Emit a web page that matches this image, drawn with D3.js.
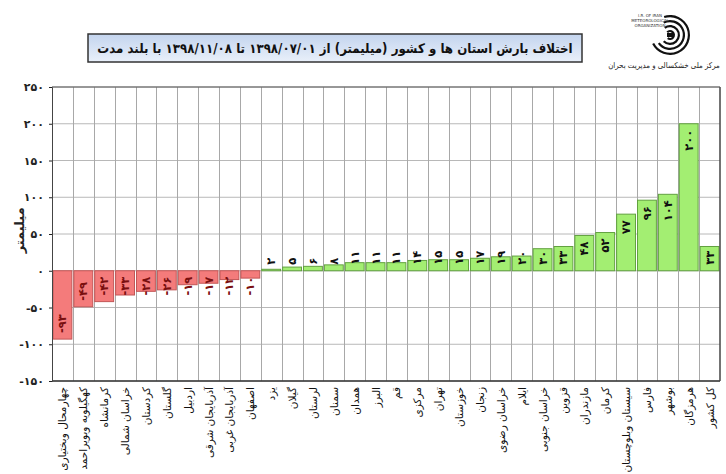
<!DOCTYPE html>
<html>
<head>
<meta charset="utf-8">
<script src="https://cdn.jsdelivr.net/npm/d3@7"></script>
<style>
  body { margin: 0; background: #fff; }
  svg { display: block; font-family: "DejaVu Sans", sans-serif; }
</style>
</head>
<body>
<svg width="726" height="474"></svg>
<script>
// provinces, in the order of the bars (left to right)
const provinces = [
  'چهارمحال وبختیاری', 'کهگیلویه وبویراحمد', 'کرمانشاه', 'خراسان شمالی', 'کردستان',
  'گلستان', 'اردبیل', 'آذربایجان شرقی', 'آذربایجان غربی', 'اصفهان',
  'یزد', 'گیلان', 'لرستان', 'سمنان', 'همدان', 'البرز', 'قم', 'مرکزی',
  'تهران', 'خوزستان', 'زنجان', 'خراسان رضوی', 'ایلام', 'خراسان جنوبی',
  'قزوین', 'مازندران', 'کرمان', 'سیستان وبلوچستان', 'فارس', 'بوشهر',
  'هرمزگان', 'کل کشور'
];
// difference from long-term mean (mm)
const diffs = [
  -93, -49, -42, -33, -28, -26, -19, -17, -12, -10,
  2, 5, 6, 8, 11, 11, 11, 14, 15, 15, 17, 19, 20, 30,
  33, 48, 52, 77, 96, 104, 200, 33
];
const yTicks = [-150, -100, -50, 0, 50, 100, 150, 200, 250];

const title = 'اختلاف بارش استان ها و کشور (میلیمتر) از ۱۳۹۸/۰۷/۰۱ تا ۱۳۹۸/۱۱/۰۸ با بلند مدت';
const yTitle = 'میلیمتر';
const orgName = 'مرکز ملی خشکسالی و مدیریت بحران';

const fa = function (s) {
  return String(s).replace(/\d/g, function (d) { return '۰۱۲۳۴۵۶۷۸۹'[d]; });
};

// shrink a text until it fits the given width
function fitText(sel, maxW, size) {
  sel.attr('font-size', size);
  const w = sel.node().getComputedTextLength();
  if (w > maxW) sel.attr('font-size', size * maxW / w);
}

const svg = d3.select('svg');
const margin = {top: 87, right: 6, bottom: 93, left: 52};
const W = 726, H = 474;

const x = d3.scaleBand()
  .domain(d3.range(provinces.length))
  .range([margin.left, W - margin.right])
  .padding(0);

const y = d3.scaleLinear()
  .domain([-150, 250])
  .range([H - margin.bottom, margin.top]);

const defs = svg.append('defs');
const tg = defs.append('linearGradient').attr('id', 'titleFill')
  .attr('x1', 0).attr('y1', 0).attr('x2', 0).attr('y2', 1);
tg.append('stop').attr('offset', '0%').attr('stop-color', '#c3d4ee');
tg.append('stop').attr('offset', '100%').attr('stop-color', '#e9f0fa');

// grid
svg.append('g')
  .selectAll('line')
  .data(yTicks)
  .enter().append('line')
  .attr('x1', margin.left).attr('x2', W - margin.right)
  .attr('y1', function (d) { return y(d); })
  .attr('y2', function (d) { return y(d); })
  .attr('stroke', '#b8b8b8');

svg.append('g')
  .selectAll('line')
  .data(d3.range(1, provinces.length))
  .enter().append('line')
  .attr('x1', function (d) { return Math.round(x(d)) + 0.5; })
  .attr('x2', function (d) { return Math.round(x(d)) + 0.5; })
  .attr('y1', y(250)).attr('y2', y(-150))
  .attr('stroke', '#a8a8a8');

// bars
svg.append('g')
  .selectAll('rect')
  .data(diffs)
  .enter().append('rect')
  .attr('x', function (d, i) { return x(i) + 1; })
  .attr('width', x.bandwidth() - 2)
  .attr('y', function (d) { return Math.min(y(d), y(0)); })
  .attr('height', function (d) { return Math.abs(y(d) - y(0)); })
  .attr('fill', function (d) { return d < 0 ? '#f47b7b' : '#a3ee72'; })
  .attr('stroke', function (d) { return d < 0 ? '#c25656' : '#62a140'; })
  .attr('stroke-width', 1);

// frame
svg.append('line')
  .attr('x1', margin.left).attr('x2', W - margin.right)
  .attr('y1', y(-150)).attr('y2', y(-150))
  .attr('stroke', '#333').attr('stroke-width', 1.5);
svg.append('line')
  .attr('x1', W - margin.right).attr('x2', W - margin.right)
  .attr('y1', y(250)).attr('y2', y(-150))
  .attr('stroke', '#444').attr('stroke-width', 1.5);
svg.append('line')
  .attr('x1', margin.left).attr('x2', W - margin.right)
  .attr('y1', y(250)).attr('y2', y(250))
  .attr('stroke', '#555');

// y axis
const yAxis = d3.axisLeft(y)
  .tickValues(yTicks)
  .tickSize(3)
  .tickFormat(function (d) { return fa(d); });
const ya = svg.append('g')
  .attr('transform', 'translate(' + margin.left + ',0)')
  .call(yAxis);
ya.select('.domain').attr('stroke', '#444');
ya.selectAll('.tick line').attr('stroke', '#222');
ya.selectAll('text')
  .attr('font-family', 'DejaVu Sans')
  .attr('font-size', 11)
  .attr('font-weight', 'bold')
  .attr('fill', '#222')
  .attr('x', -8);

svg.append('text')
  .attr('transform', 'translate(24,' + y(55) + ') rotate(-90)')
  .attr('text-anchor', 'middle')
  .attr('font-size', 13)
  .attr('font-weight', 'bold')
  .attr('fill', '#222')
  .text(yTitle);

// x labels
svg.append('g')
  .selectAll('text')
  .data(provinces)
  .enter().append('text')
  .attr('transform', function (d, i) {
    return 'translate(' + (x(i) + x.bandwidth() / 2 + 4) + ',' + (y(-150) + 6) + ') rotate(-90)';
  })
  .attr('text-anchor', 'end')
  .attr('font-size', 10.5)
  .attr('fill', '#111')
  .text(function (d) { return d; });

// value labels, rotated, inside the bar end when there is room
const vl = svg.append('g')
  .selectAll('text')
  .data(diffs)
  .enter().append('text')
  .attr('font-size', 11.5)
  .attr('font-weight', 'bold')
  .attr('fill', function (d) { return d < 0 ? '#7a0f0f' : '#111'; })
  .attr('text-anchor', 'start')
  .text(function (d) { return fa(d); });

vl.each(function (d, i) {
  const len = this.getComputedTextLength();
  let bottom;
  if (d >= 0) {
    const top = Math.min(y(d) + 6, y(0) - 6 - len);
    bottom = top + len;
  } else {
    bottom = Math.max(y(d) - 6, y(0) + 6 + len);
  }
  d3.select(this).attr('transform',
    'translate(' + (x(i) + x.bandwidth() / 2 + 4) + ',' + bottom + ') rotate(-90)');
});

// title box
svg.append('rect')
  .attr('x', 88).attr('y', 34).attr('width', 494).attr('height', 28)
  .attr('fill', 'url(#titleFill)')
  .attr('stroke', '#333').attr('stroke-width', 1.5);
const tt = svg.append('text')
  .attr('x', 335).attr('y', 53)
  .attr('text-anchor', 'middle')
  .attr('font-family', '"DejaVu Sans Condensed", "DejaVu Sans", sans-serif')
  .attr('font-weight', 'bold')
  .attr('fill', '#111')
  .text(title);
fitText(tt, 476, 15);

// logo
const logo = svg.append('g').attr('transform', 'translate(670,35)');
[20, 15, 10, 5].forEach(function (r, k) {
  logo.append('path')
    .attr('d', d3.arc()({innerRadius: r - 2.2, outerRadius: r,
      startAngle: -Math.PI * (0.1 + k * 0.05), endAngle: Math.PI * (1.35 - k * 0.05)}))
    .attr('fill', '#111');
});
logo.append('rect').attr('x', -3).attr('y', -2).attr('width', 6).attr('height', 4).attr('fill', '#111');
['I.R. OF IRAN', 'METEOROLOGICAL', 'ORGANIZATION'].forEach(function (t, k) {
  svg.append('text')
    .attr('x', 650).attr('y', 17 + k * 5)
    .attr('text-anchor', 'middle')
    .attr('font-size', 4)
    .attr('fill', '#333')
    .text(t);
});
const org = svg.append('text')
  .attr('x', 664).attr('y', 68)
  .attr('text-anchor', 'middle')
  .attr('font-family', '"DejaVu Sans Condensed", "DejaVu Sans", sans-serif')
  .attr('fill', '#222')
  .text(orgName);
fitText(org, 112, 8.5);
</script>
</body>
</html>
